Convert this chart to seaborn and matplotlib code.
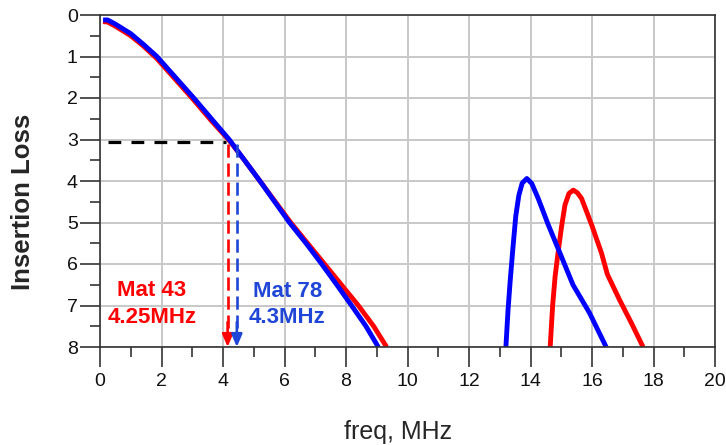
import numpy as np
import pandas as pd
import matplotlib
matplotlib.use("Agg")
import matplotlib.pyplot as plt
from matplotlib.ticker import MultipleLocator
import seaborn as sns

# Insertion loss (dB) vs frequency (MHz) for two ferrite materials
mat43_pass_freq = [0.1, 0.25, 0.5, 1.0, 1.4, 1.85, 2.45, 3.05, 3.6, 4.2, 4.7, 5.2, 5.7, 6.2, 6.75, 7.3, 7.85, 8.4, 8.9, 9.32]
mat43_pass_loss = [0.16, 0.17, 0.27, 0.5, 0.74, 1.05, 1.55, 2.05, 2.53, 3.02, 3.5, 4.0, 4.5, 5.0, 5.5, 6.0, 6.5, 7.0, 7.5, 8.0]
mat78_pass_freq = [0.1, 0.25, 0.5, 1.0, 1.4, 1.85, 2.45, 3.05, 3.6, 4.2, 4.7, 5.2, 5.7, 6.16, 6.7, 7.21, 7.7, 8.18, 8.65, 9.05]
mat78_pass_loss = [0.12, 0.12, 0.22, 0.45, 0.7, 1.0, 1.5, 2.0, 2.48, 3.0, 3.5, 4.0, 4.52, 5.0, 5.5, 6.0, 6.5, 7.0, 7.5, 8.0]

mat43_spur_freq = [14.64, 14.72, 14.8, 14.91, 15.01, 15.12, 15.25, 15.39, 15.52, 15.66, 15.99, 16.31, 16.5, 16.9, 17.3, 17.66]
mat43_spur_loss = [8.0, 7.0, 6.3, 5.65, 5.1, 4.58, 4.3, 4.22, 4.28, 4.42, 5.06, 5.74, 6.25, 6.87, 7.45, 8.0]
mat78_spur_freq = [13.2, 13.27, 13.34, 13.43, 13.52, 13.62, 13.73, 13.88, 14.04, 14.25, 14.58, 14.96, 15.38, 15.92, 16.46]
mat78_spur_loss = [8.0, 7.1, 6.4, 5.6, 4.85, 4.35, 4.05, 3.94, 4.06, 4.42, 5.06, 5.74, 6.5, 7.18, 8.0]

cutoff_loss = 3.05
mat43_cutoff = 4.25
mat78_cutoff = 4.3

RED = "#ff0000"
BLUE = "#0000ff"
TEXT_BLUE = "#1f46d6"

rows = []
for mat, seg, fx, ly in [
    ("Mat 43", "pass", mat43_pass_freq, mat43_pass_loss),
    ("Mat 43", "spur", mat43_spur_freq, mat43_spur_loss),
    ("Mat 78", "pass", mat78_pass_freq, mat78_pass_loss),
    ("Mat 78", "spur", mat78_spur_freq, mat78_spur_loss),
]:
    for f, l in zip(fx, ly):
        rows.append({"material": mat, "segment": f"{mat}-{seg}", "freq": f, "loss": l})
df = pd.DataFrame(rows)

sns.set_style("white")
plt.rcParams["font.family"] = ["Liberation Sans", "DejaVu Sans"]

fig = plt.figure(figsize=(7.26, 4.45), dpi=100)
ax = fig.add_axes([100 / 726, 1 - 347 / 445, 615 / 726, 332 / 445])

sns.lineplot(data=df, x="freq", y="loss", hue="material", units="segment",
             estimator=None, sort=False, palette={"Mat 43": RED, "Mat 78": BLUE},
             linewidth=3.5, legend=False, ax=ax)
for ln in ax.get_lines():
    ln.set_solid_joinstyle("round")
    ln.set_solid_capstyle("butt")

ax.set_xlim(0, 20)
ax.set_ylim(8, 0)
ax.xaxis.set_major_locator(MultipleLocator(2))
ax.xaxis.set_minor_locator(MultipleLocator(1))
ax.yaxis.set_major_locator(MultipleLocator(1))
ax.yaxis.set_minor_locator(MultipleLocator(0.5))
ax.grid(True, which="major", color="#c8c8c8", linewidth=1.4)
ax.set_axisbelow(True)

for side in ["left", "right", "top", "bottom"]:
    ax.spines[side].set_color("#333333")
    ax.spines[side].set_linewidth(1.2)

ax.tick_params(which="major", direction="out", length=14.5, width=1.1, color="#222222",
               labelsize=14, labelcolor="#111111", left=True, bottom=True)
ax.tick_params(which="minor", direction="out", length=7.5, width=1.1, color="#222222",
               left=True, bottom=True)
ax.tick_params(axis="y", which="major", pad=1.5)
ax.tick_params(axis="x", which="major", pad=4)

ax.set_xlabel("freq, MHz", fontsize=18)
ax.xaxis.label.set_va("center")
ax.xaxis.set_label_coords((398 - 100) / 615, (347 - 432) / 332)
ax.set_ylabel("Insertion Loss", fontsize=18.5, fontweight="bold")
ax.yaxis.label.set_va("center")
ax.yaxis.set_label_coords((23 - 100) / 615, (347 - 202) / 332)

# 3 dB reference line
ax.plot([0.27, 4.1], [cutoff_loss, cutoff_loss], color="black", linewidth=2.3,
        dashes=(4.0, 3.2), solid_capstyle="butt", dash_capstyle="butt")

# Cutoff markers, spread slightly apart so both arrows stay visible
for fc, shift, col in [(mat43_cutoff, -0.1, RED), (mat78_cutoff, 0.15, TEXT_BLUE)]:
    xm = fc + shift
    ax.plot([xm, xm], [cutoff_loss + 0.05, 7.55], color=col, linewidth=1.9,
            dashes=(5.0, 2.2), dash_capstyle="butt")
    ax.annotate("", xy=(xm, 8.0), xytext=(xm, 7.4),
                arrowprops=dict(arrowstyle="-|>,head_length=0.75,head_width=0.32",
                                color=col, lw=1.9, shrinkA=0, shrinkB=0))

ax.text(1.69, 6.63, "Mat 43", color=RED, fontsize=16, fontweight="bold",
        ha="center", va="center")
ax.text(1.69, 7.3, f"{mat43_cutoff}MHz", color=RED, fontsize=16, fontweight="bold",
        ha="center", va="center")
ax.text(6.1, 6.67, "Mat 78", color=TEXT_BLUE, fontsize=16, fontweight="bold",
        ha="center", va="center")
ax.text(6.07, 7.3, f"{mat78_cutoff}MHz", color=TEXT_BLUE, fontsize=16, fontweight="bold",
        ha="center", va="center")

fig.savefig("out.png", dpi=100)
